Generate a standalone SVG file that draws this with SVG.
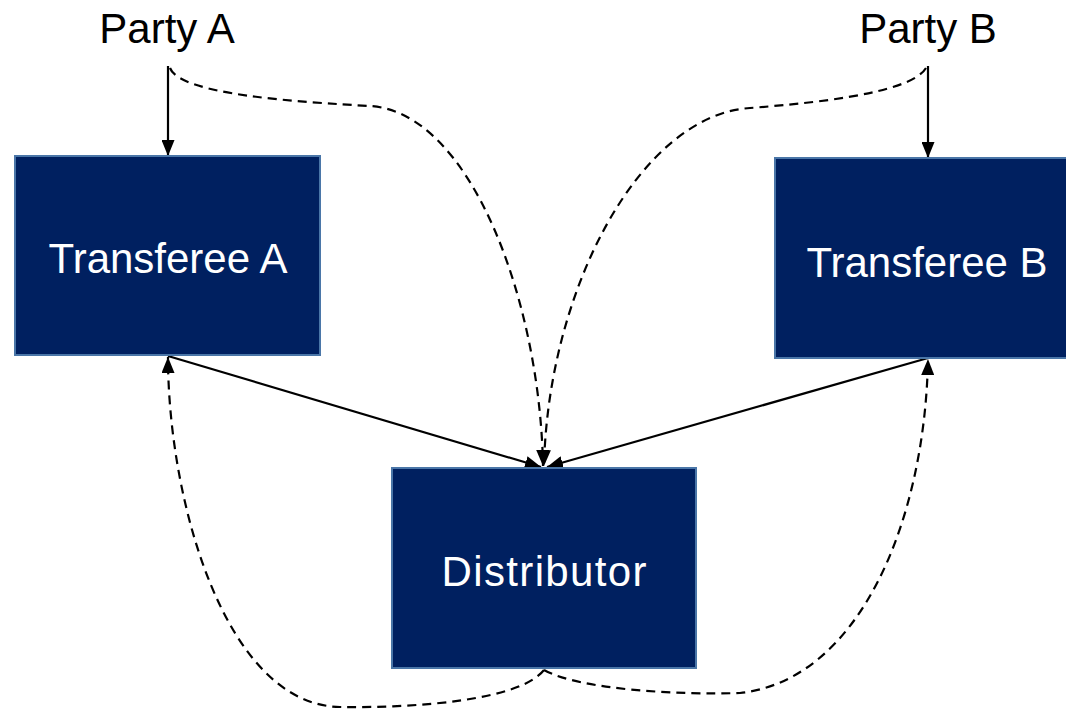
<svg xmlns="http://www.w3.org/2000/svg" width="1066" height="710" viewBox="0 0 1066 710">
  <style>
    .box { fill: #002060; stroke: #4A76A8; stroke-width: 2; }
    .boxlabel { font-family: "Liberation Sans", Arial, sans-serif; font-size: 42px; fill: #FFFFFF; text-anchor: middle; }
    .party { font-family: "Liberation Sans", Arial, sans-serif; font-size: 42px; fill: #000000; text-anchor: middle; }
    .solid { fill: none; stroke: #000000; stroke-width: 2.2; marker-end: url(#arrow); }
    .dashed { fill: none; stroke: #000000; stroke-width: 2.2; stroke-dasharray: 9 6; marker-end: url(#arrow); }
  </style>
  <defs>
    <marker id="arrow" viewBox="0 0 16 13" refX="16" refY="6.5" markerWidth="16" markerHeight="13" markerUnits="userSpaceOnUse" orient="auto">
      <path d="M0,0 L16,6.5 L0,13 Z" fill="#000000"/>
    </marker>
  </defs>

  <rect width="1066" height="710" fill="#FFFFFF"/>

  <g id="connectors">
    <!-- party to transferee -->
    <line class="solid" x1="168" y1="66" x2="168" y2="156"/>
    <line class="solid" x1="928" y1="66" x2="928" y2="158"/>
    <!-- transferees to distributor -->
    <line class="solid" x1="168" y1="356" x2="541" y2="467"/>
    <line class="solid" x1="928" y1="358" x2="547" y2="467"/>
    <!-- parties to distributor -->
    <path class="dashed" d="M170,68 C180,95 300,102 370,106 C470,112 540,300 543,466"/>
    <path class="dashed" d="M926,68 C910,95 800,104 750,108 C640,115 548,290 544,466"/>
    <!-- distributor back to transferees -->
    <path class="dashed" d="M544,670 C520,700 420,708 340,707 C225,705 168,500 168,357"/>
    <path class="dashed" d="M544,670 C580,690 680,695 740,693 C860,680 925,520 928,359"/>
  </g>

  <g id="party-a">
    <text class="party" x="167" y="43">Party A</text>
  </g>
  <g id="party-b">
    <text class="party" x="928" y="43">Party B</text>
  </g>
  <g id="transferee-a">
    <rect class="box" x="15" y="156" width="305" height="199"/>
    <text class="boxlabel" x="168" y="273">Transferee A</text>
  </g>
  <g id="transferee-b">
    <rect class="box" x="775" y="158" width="305" height="200"/>
    <text class="boxlabel" x="927" y="277">Transferee B</text>
  </g>
  <g id="distributor">
    <rect class="box" x="392" y="468" width="304" height="200"/>
    <text class="boxlabel" x="544" y="586" textLength="205">Distributor</text>
  </g>
</svg>
